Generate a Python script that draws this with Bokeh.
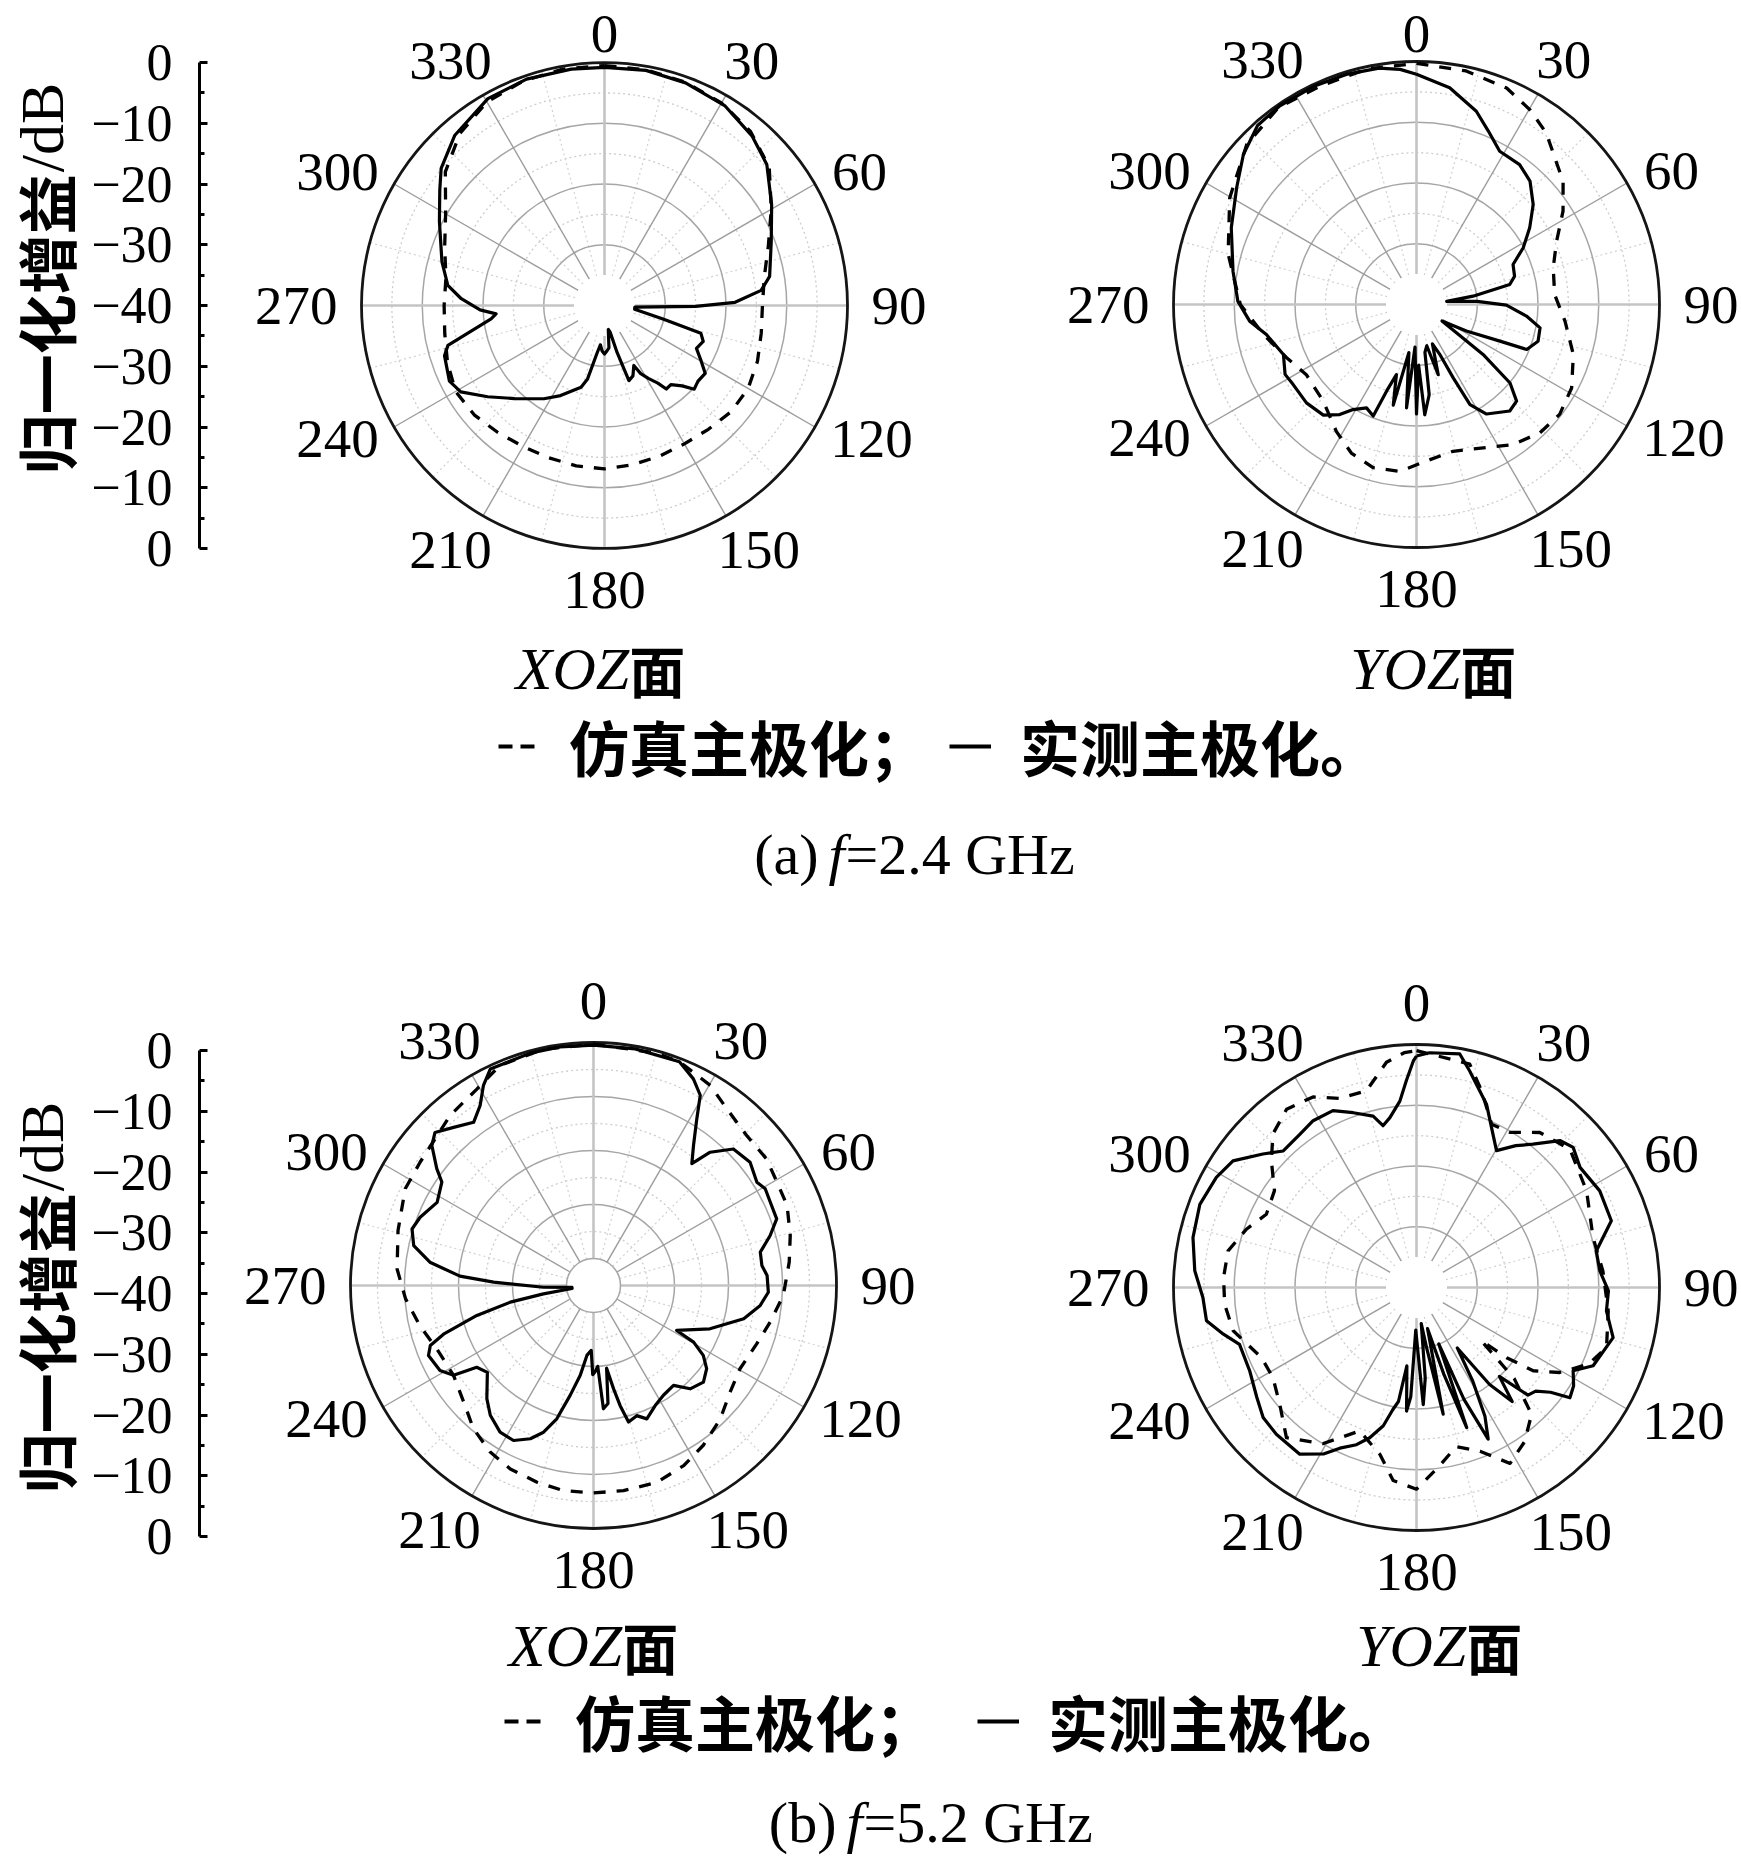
import numpy as np
from bokeh.plotting import figure
from bokeh.models import Range1d, LinearAxis, FixedTicker, ColumnDataSource, Legend, LegendItem
from bokeh.layouts import column, row
from bokeh.embed import file_html
from bokeh.resources import INLINE
from bokeh.core.properties import value

# ---------------- tick / label data ----------------
angle_ticks = [0, 30, 60, 90, 120, 150, 180, 210, 240, 270, 300, 330]
angle_labels = ["0", "30", "60", "90", "120", "150", "180", "210", "240", "270", "300", "330"]
axis_ticks = [-40, -30, -20, -10, 0, 10, 20, 30, 40]
axis_tick_labels = ["0", "\u221210", "\u221220", "\u221230", "\u221240", "\u221230", "\u221220", "\u221210", "0"]
axis_minor = [-35, -25, -15, -5, 5, 15, 25, 35]
y_label_cjk = "归一化增益"
y_label_unit = "/dB"
legend_labels = ["仿真主极化；", "实测主极化。"]
plane_names = ["XOZ", "YOZ"]
plane_suffix = "面"
caption_a = ["(a)", "f", "=2.4 GHz"]
caption_b = ["(b)", "f", "=5.2 GHz"]

# ---------------- (a) 2.4 GHz, XOZ ----------------
tl_meas_ang = [0, 10, 20, 31, 41, 49, 59, 69, 80, 84.5, 88.6, 90.5, 93, 97, 103, 106, 110, 115, 120, 124,
               129, 133, 136, 140, 143.5, 145.5, 149, 152, 154, 158, 162, 165, 168, 171, 174, 177, 180, 183,
               186, 189, 193, 196, 206, 213, 224, 232, 239, 244, 252.6, 255.7, 263.3, 265.6, 268, 272.7,
               277.3, 285, 297, 305, 310, 318.6, 330.6, 341, 352]
tl_meas_db = [-0.8, -0.7, -1.0, -1.6, -3.0, -4.6, -7.9, -10.6, -12.4, -14.1, -18.5, -25, -35, -35, -30, -23.5,
              -22.7, -23.3, -21.6, -20.0, -20.2, -19.8, -21.6, -23.0, -22.9, -24.5, -26.0, -27.3, -29, -27.5,
              -27.0, -32, -35.5, -36, -33, -32.5, -32, -32.5, -33.5, -32, -27.6, -26, -23.5, -21.7, -18.7,
              -15.6, -12.4, -11.6, -12.4, -13.4, -21.2, -22.1, -19.5, -16.4, -14.0, -12.3, -9.5, -6.9, -4.9,
              -2.7, -0.9, -0.6, -0.7]
tl_sim_ang = [0, 10, 20, 30, 40, 50, 60, 70, 80, 90, 100, 110, 120, 130, 140, 150, 160, 170, 180, 190,
              200, 210, 220, 230, 240, 250, 260, 270, 280, 290, 300, 310, 320, 330, 340, 350]
tl_sim_db = [-0.5, -0.6, -0.9, -1.5, -2.6, -4.6, -8.3, -11.3, -13.3, -14.0, -13.8, -13.2, -12.7, -12.8,
             -13.4, -13.7, -13.6, -13.4, -13.1, -13.2, -13.3, -13.2, -12.7, -12.0, -11.7, -12.5, -13.3,
             -13.6, -13.5, -12.0, -9.8, -5.8, -3.0, -1.3, -0.7, -0.5]

# ---------------- (a) 2.4 GHz, YOZ ----------------
tr_meas_ang = [0, 8.7, 17.2, 22.5, 28.5, 36.4, 42.6, 49.4, 55.9, 62, 67.5, 73.9, 77.9, 81.6, 84, 87, 90.4,
               96, 100.7, 106.8, 112.2, 113.7, 118, 122.9, 126.9, 130, 134, 138.8, 147.4, 151.9, 153.4, 155,
               158, 162.8, 166, 170, 172, 175.7, 178, 180, 182, 185.5, 189, 193, 196, 199, 201.2, 205.8,
               211.1, 214.9, 220.1, 228.2, 237, 242, 249.4, 258.7, 264.3, 271, 280.3, 292.5, 303, 310.9,
               318.4, 325.5, 335, 343, 351, 356]
tr_meas_db = [-2.1, -3.9, -6.7, -9.1, -11.3, -11.4, -12.4, -14.7, -17.5, -20.1, -22.8, -23.2, -24.3, -30.6,
              -35, -30, -25.2, -21.8, -19.3, -19.1, -20.4, -25, -30.7, -35, -26.3, -19.9, -17.1, -16.7,
              -18.6, -21.3, -26.5, -31, -33, -27.9, -33, -32, -25, -21.8, -30, -22, -33, -22.9, -32, -23,
              -28, -25, -20.3, -21.1, -19.8, -17.9, -16.2, -15.7, -15.8, -15.5, -16.6, -14.8, -12.4, -10.6,
              -9.3, -7.0, -4.7, -2.3, -0.6, -0.3, -0.3, -0.4, -0.6, -1.2]
tr_sim_ang = [0, 12, 22.6, 30.2, 37.1, 50, 57.5, 65.7, 75, 85.9, 96.4, 107.7, 118.3, 127.5, 136.1, 145.4,
              153.9, 166, 176.3, 185.7, 194.9, 203.7, 212.3, 224, 237.5, 247.7, 259, 270, 285, 299.7,
              313.3, 325, 336, 348]
tr_sim_db = [-0.3, -0.7, -1.4, -2.9, -4.6, -8.5, -11.4, -14.7, -16.7, -17.2, -15.4, -12.9, -11.0, -10.3,
             -10.7, -12.0, -13.8, -15.1, -14.2, -12.4, -12.2, -13.3, -15.3, -17.9, -18.5, -16.9, -14.3,
             -11.0, -7.9, -4.6, -1.6, -0.4, -0.7, -0.4]

# ---------------- (b) 5.2 GHz, XOZ (radial span 45 dB) ----------------
bl_meas_ang = [0, 10, 21, 25.8, 29.3, 31.8, 35.5, 38.9, 41.2, 45.7, 51.8, 57.7, 60.6, 64.7, 70, 74.2, 78.7,
               83.2, 86.7, 92.2, 96.8, 102.5, 110.4, 118.4, 119.5, 122.5, 126.3, 131.3, 136.9, 141.3, 147.5,
               152.8, 158.2, 161.6, 165.6, 167.5, 169, 171, 173, 175.4, 177, 179, 180.5, 182, 185.4, 188.4,
               192, 195.4, 198.8, 202.4, 207.3, 212.5, 218.5, 223.3, 230.7, 235, 237.3, 241, 247, 249.8,
               252, 255.6, 258.7, 260.5, 262, 265, 268, 271.9, 274, 278.1, 282.5, 287.3, 291.5, 298,
               304.3, 306.7, 310.9, 314, 318.5, 323.7, 327.8, 331.2, 334.5, 345, 352]
bl_meas_db = [-0.5, -0.5, -0.6, -2.5, -4.6, -8.7, -13.1, -16, -12.2, -8.8, -8.1, -9.2, -8.5, -8.8, -8.9,
              -11, -13.5, -13.6, -12.8, -12.6, -13.9, -16.5, -22, -27.5, -23.7, -20.9, -19, -17.9, -18.8,
              -21.3, -20.9, -20, -18.4, -19.6, -18.9, -22.2, -25.5, -29.5, -23, -22.1, -30, -29, -28.5, -33,
              -32, -28.2, -24.2, -19.4, -16.3, -14.3, -12.7, -12.8, -14.3, -16.2, -19.6, -18.6, -14.2, -12.5,
              -11.8, -12.8, -15.8, -22.7, -29.3, -35.6, -41, -41, -35.7, -26.5, -20.2, -14.4, -10.9, -9.8,
              -10.5, -12.2, -11, -8.8, -5.4, -4.2, -5.9, -7.5, -5.6, -2.7, -0.6, -0.4, -0.4]
bl_sim_ang = [0, 15, 21, 30.3, 37, 45.6, 53.8, 60.6, 67.5, 75.7, 83.2, 93, 101.7, 109.7, 119.6, 128, 136.5,
              145.5, 153.4, 162.2, 171.7, 180, 188.3, 196, 204.4, 211.8, 220, 228.1, 237.3, 248, 256.9, 266,
              274.8, 285.7, 297.2, 305.4, 319.9, 329.3, 337, 348]
bl_sim_db = [-0.3, -0.4, -0.6, -2.1, -4.0, -5.3, -5.3, -6.0, -6.2, -7.4, -8.5, -9.8, -11.6, -12.9, -13.8,
             -12.9, -10.9, -9.1, -7.7, -6.7, -6.6, -6.6, -6.6, -7.1, -7.7, -8.7, -10.4, -12.7, -14.2, -13.7,
             -12.0, -10.1, -8.5, -7.4, -5.8, -5.6, -3.8, -2.7, -0.7, -0.3]

# ---------------- (b) 5.2 GHz, YOZ ----------------
br_meas_ang = [0, 3.2, 10.5, 13.8, 20.9, 25.1, 30.3, 35, 39.1, 44.3, 48.2, 53.7, 62.2, 71.1, 78.5, 84.8, 91,
               97, 104.3, 113.9, 118, 122, 125.7, 128, 131, 134, 137, 140, 143, 146, 149, 152, 154.7, 157,
               158.5, 160.3, 162.5, 165, 168.1, 170.5, 172.5, 174.5, 176.7, 179, 181, 183, 184.6, 187, 189,
               191, 193.5, 197.3, 200.9, 205.5, 209.2, 215, 223.7, 229.7, 235.5, 243.4, 252.2, 256.4, 261,
               267.3, 274.3, 282.6, 291, 298.8, 304.6, 311, 315.7, 322.7, 328.2, 334.7, 340.1, 345.8, 348.3,
               351.1, 354.9, 357.2, 359.2]
br_meas_db = [-1.9, -1.3, -0.9, -3.3, -7.7, -10.9, -13.9, -11.5, -9.6, -6.2, -5.4, -6.6, -5.9, -6.1, -9.8,
              -9.7, -8.4, -8.5, -6.6, -8.2, -10.8, -9.5, -8.9, -12, -14, -14.5, -20, -15.5, -20, -28, -22,
              -16, -12.4, -20, -30, -15.5, -25, -33, -18.7, -30, -34, -25, -20.7, -30, -33, -22, -19.6, -27,
              -21, -19.5, -16.6, -14.1, -12.3, -10.7, -8.6, -6.5, -6.6, -6.9, -8.1, -9.3, -9.4, -7.3, -5.0,
              -4.8, -3.4, -2.3, -1.8, -2.4, -3.3, -6.5, -8.6, -8.3, -7.7, -7.8, -9.4, -10.9, -12.8, -11.7,
              -9.2, -5.9, -2.7]
br_sim_ang = [0, 13.4, 18.3, 24.7, 31, 38.5, 48, 60.4, 74.2, 84.9, 97, 107.5, 114, 120.7, 125.5, 127.9,
              129.4, 133, 137.8, 145, 152, 158.8, 166, 173.1, 180, 186.9, 192.4, 201.6, 211, 220.9, 229.5,
              237.9, 245.7, 256.7, 265, 273, 281, 288.9, 296, 304.3, 311.1, 316.9, 323.9, 331.5, 337.9,
              345.7, 352.4, 357]
br_sim_db = [-1.0, -2.2, -5.9, -10.4, -10.2, -7.4, -6.0, -7.8, -9.8, -9.2, -8.2, -7.2, -9.0, -12.6, -16.4,
             -21.2, -26.2, -18.0, -11.8, -9.0, -7.2, -11.1, -13.0, -10.2, -6.8, -8.0, -11.9, -14.6, -10.0,
             -7.3, -10.4, -12.1, -12.0, -9.0, -8.3, -8.2, -8.4, -10.4, -12.5, -11.7, -8.3, -5.4, -3.7, -4.3,
             -6.4, -6.6, -2.6, -1.3]

# ---------------- layout constants (page pixels, page origin at 0,0) ----------------
R = 243.0
SERIF = "Liberation Serif"
CJK = "Noto Sans CJK SC"
NUM_FS = 55
TICK_FS = 52
TXT_FS = 56
LEG_FS = 60
PLANE_FS = 60
CAP_FS = 58
YLAB_FS = 60


def base_fig(w, h, xr, yr):
    p = figure(width=int(w), height=int(h), x_range=xr, y_range=yr,
               x_axis_type=None, y_axis_type=None, toolbar_location=None,
               output_backend="svg", min_border=0, outline_line_color=None,
               background_fill_color="white", border_fill_color="white")
    p.min_border_left = p.min_border_right = p.min_border_top = p.min_border_bottom = 0
    return p


def closed_xy(ang, db, rmin):
    a = np.radians(np.asarray(ang, dtype=float))
    r = np.clip((np.asarray(db, dtype=float) - rmin) / (-rmin), 0.0, None)
    x, y = r * np.sin(a), r * np.cos(a)
    return np.append(x, x[0]), np.append(y, y[0])


def polar_panel(box, frame_left, ctr, rmin, sim, meas, axis_shift=None):
    x0, y0, x1, y1 = box
    cx, cy = ctr
    p = base_fig(x1 - x0, y1 - y0,
                 Range1d((frame_left - cx) / R, (x1 - cx) / R),
                 Range1d(-(y1 - cy) / R, (cy - y0) / R))
    p.min_border_left = frame_left - x0

    span = -rmin
    major = [-10, -20, -30]
    minor = [-5, -15, -25] + ([-35] if rmin < -40 else [])
    inner_db = -40 if rmin < -40 else -35
    r_in = (inner_db - rmin) / span

    # minor (dotted) rings and spokes
    p.circle(x=[0] * len(minor), y=[0] * len(minor), radius=[(d - rmin) / span for d in minor],
             fill_color=None, line_color="#cdcdcd", line_width=1.3, line_dash="2 3")
    am = np.radians(np.array(angle_ticks) + 15)
    p.segment(x0=r_in * np.sin(am), y0=r_in * np.cos(am), x1=np.sin(am), y1=np.cos(am),
              line_color="#d2d2d2", line_width=1.2, line_dash="2 3")
    # major rings
    p.circle(x=[0] * 3, y=[0] * 3, radius=[(d - rmin) / span for d in major],
             fill_color=None, line_color="#a6a6a6", line_width=1.5)
    # spokes
    a = np.radians(np.array(angle_ticks, dtype=float))
    diag = np.array([t % 90 != 0 for t in angle_ticks])
    p.segment(x0=r_in * np.sin(a[diag]), y0=r_in * np.cos(a[diag]), x1=np.sin(a[diag]), y1=np.cos(a[diag]),
              line_color="#9c9c9c", line_width=1.4)
    p.segment(x0=r_in * np.sin(a[~diag]), y0=r_in * np.cos(a[~diag]), x1=np.sin(a[~diag]),
              y1=np.cos(a[~diag]), line_color="#c4c4c4", line_width=2.6)
    # inner disc
    p.circle(x=[0], y=[0], radius=[r_in], fill_color="white",
             line_color="#a6a6a6" if rmin < -40 else None, line_width=1.5)
    # outer circle
    p.circle(x=[0], y=[0], radius=[1.0], fill_color=None, line_color="#151515", line_width=2.8)

    # curves
    sx, sy = closed_xy(sim[0], sim[1], rmin)
    mx, my = closed_xy(meas[0], meas[1], rmin)
    p.line(sx, sy, line_color="black", line_width=3.3, line_dash="12 11", line_join="round")
    p.line(mx, my, line_color="black", line_width=3.2, line_join="round")

    # angle labels: anchored at 1.1 R, pushed outward by part of the label box
    hw = np.array([0.25 * NUM_FS * len(s) for s in angle_labels])
    hh = 0.32 * NUM_FS
    sn, cs = np.sin(a), np.cos(a)
    fy = np.sign(cs) * np.maximum(0.0, 2 * np.abs(cs) - 1)
    lx = (267 * sn + hw * sn) / R
    ly_px = 267 * cs + hh * fy
    ly_px = np.minimum(ly_px, (cy - y0) - 0.6 * NUM_FS)   # keep the label box inside the panel
    ly = ly_px / R
    src = ColumnDataSource(dict(x=lx, y=ly, t=angle_labels))
    p.text(x="x", y="y", text="t", source=src, text_align="center", text_baseline="middle",
           text_font=value(SERIF), text_font_size=f"{NUM_FS}px", text_color="black")

    if axis_shift is not None:
        s = axis_shift / R * 40
        p.extra_y_ranges = {"ax": Range1d(p.y_range.start * 40 + s, p.y_range.end * 40 + s)}
        ax = LinearAxis(y_range_name="ax", bounds=(-40, 40),
                        ticker=FixedTicker(ticks=axis_ticks, minor_ticks=axis_minor))
        ax.major_label_overrides = {k: v for k, v in zip(axis_ticks, axis_tick_labels)}
        ax.axis_line_width = 3
        ax.axis_line_color = "black"
        ax.major_tick_in = 8
        ax.major_tick_out = 0
        ax.minor_tick_in = 5
        ax.minor_tick_out = 0
        ax.major_tick_line_width = 3
        ax.minor_tick_line_width = 3
        ax.major_label_standoff = 27
        ax.major_label_text_font = SERIF
        ax.major_label_text_font_size = f"{TICK_FS}px"
        ax.major_label_text_color = "black"
        p.add_layout(ax, "left")
    return p


def ylabel_panel(box, label_cy):
    x0, y0, x1, y1 = box
    h = y1 - y0
    p = base_fig(x1 - x0, h, Range1d(x0, x1), Range1d(0, h))
    label_cx = (x0 + x1) / 2
    w_cjk = 5 * YLAB_FS
    w_unit = 1.445 * (YLAB_FS + 2)
    ybot = (y1 - label_cy) - (w_cjk + w_unit) / 2
    p.text(x=[label_cx], y=[ybot], text=[y_label_cjk], angle=np.pi / 2, text_align="left",
           text_baseline="middle", text_font=value(CJK), text_font_style="bold",
           text_font_size=f"{YLAB_FS}px", text_color="black")
    p.text(x=[label_cx - 3], y=[ybot + w_cjk + 2], text=[y_label_unit], angle=np.pi / 2, text_align="left",
           text_baseline="middle", text_font=value(SERIF), text_font_size=f"{YLAB_FS + 2}px",
           text_color="black")
    return p


def text_panel(box, planes, legend_left, legend_cy, spacing, cap, cap_cy, cap_split):
    x0, y0, x1, y1 = box
    p = base_fig(x1 - x0, y1 - y0, Range1d(x0, x1), Range1d(y1, y0))
    # plane labels: italic latin part + CJK character
    w_lat = 1.89 * PLANE_FS
    for name, pcx, pcy in planes:
        split = pcx - (w_lat + TXT_FS) / 2 + w_lat
        p.text(x=[split], y=[pcy], text=[name], text_align="right", text_baseline="middle",
               text_font=value(SERIF), text_font_style="italic", text_font_size=f"{PLANE_FS}px",
               text_color="black")
        p.text(x=[split], y=[pcy], text=[plane_suffix], text_align="left", text_baseline="middle",
               text_font=value(CJK), text_font_style="bold", text_font_size=f"{TXT_FS}px",
               text_color="black")
    # legend
    r_sim = p.line(x=[np.nan], y=[np.nan], line_color="black", line_width=4, line_dash="14 8")
    r_meas = p.line(x=[np.nan], y=[np.nan], line_color="black", line_width=4)
    gh = 56
    leg = Legend(items=[LegendItem(label=legend_labels[0], renderers=[r_sim]),
                        LegendItem(label=legend_labels[1], renderers=[r_meas])],
                 orientation="horizontal", location=(legend_left - x0, (y1 - legend_cy) - gh / 2),
                 glyph_width=42, glyph_height=gh, label_height=gh, label_standoff=29, spacing=spacing,
                 padding=0, margin=0, border_line_color=None, background_fill_alpha=0,
                 label_text_font=CJK, label_text_font_style="bold", label_text_font_size=f"{LEG_FS}px",
                 label_text_color="black", label_text_baseline="middle")
    p.add_layout(leg)
    # caption
    p.text(x=[cap_split], y=[cap_cy], text=[cap[0]], text_align="right", text_baseline="middle",
           text_font=value(SERIF), text_font_size=f"{CAP_FS}px", text_color="black")
    p.text(x=[cap_split + 10], y=[cap_cy], text=[cap[1]], text_align="left", text_baseline="middle",
           text_font=value(SERIF), text_font_style="italic", text_font_size=f"{CAP_FS}px",
           text_color="black")
    p.text(x=[cap_split + 27], y=[cap_cy], text=[cap[2]], text_align="left", text_baseline="middle",
           text_font=value(SERIF), text_font_size=f"{CAP_FS}px", text_color="black")
    return p


W, H = 1741, 1859
TOP = (0, 626)
BOT = (900, 1602)
XLAB, XM = 88, 950
AXIS_X = 199

lab_t = ylabel_panel((0, TOP[0], XLAB, TOP[1]), 279)
p_tl = polar_panel((XLAB, TOP[0], XM, TOP[1]), AXIS_X, (604, 305), -40,
                   (tl_sim_ang, tl_sim_db), (tl_meas_ang, tl_meas_db), axis_shift=0)
p_tr = polar_panel((XM, TOP[0], W, TOP[1]), XM, (1416, 304), -40,
                   (tr_sim_ang, tr_sim_db), (tr_meas_ang, tr_meas_db))
p_ta = text_panel((0, TOP[1], W, BOT[0]),
                  [(plane_names[0], 600, 668), (plane_names[1], 1431, 668)],
                  498, 761, 20, caption_a, 854, 818)
lab_b = ylabel_panel((0, BOT[0], XLAB, BOT[1]), 1298)
p_bl = polar_panel((XLAB, BOT[0], XM, BOT[1]), AXIS_X, (593, 1285), -45,
                   (bl_sim_ang, bl_sim_db), (bl_meas_ang, bl_meas_db), axis_shift=8)
p_br = polar_panel((XM, BOT[0], W, BOT[1]), XM, (1416, 1287), -40,
                   (br_sim_ang, br_sim_db), (br_meas_ang, br_meas_db))
p_tb = text_panel((0, BOT[1], W, H),
                  [(plane_names[0], 593, 1645), (plane_names[1], 1437, 1645)],
                  504, 1736, 42, caption_b, 1822, 836)

layout = column(row(lab_t, p_tl, p_tr), p_ta, row(lab_b, p_bl, p_br), p_tb)
open("out.html", "w").write(file_html(layout, INLINE))
